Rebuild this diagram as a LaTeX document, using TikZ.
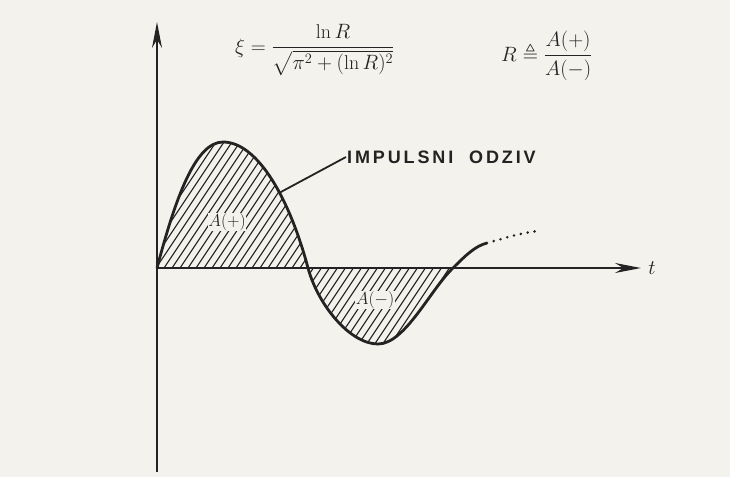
\documentclass[tikz,border=0pt]{standalone}
\usepackage{amsmath,amssymb}
\usepackage{fontspec}
\newfontfamily\labelfont[LetterSpace=16]{Liberation Sans}
\usetikzlibrary{arrows.meta}
\definecolor{paper}{RGB}{244,242,236}
\definecolor{ink}{RGB}{35,35,35}
\tikzset{
  axisline/.style={draw=ink, line width=1.8pt, -{Stealth[length=26pt,width=10pt]}},
  curveline/.style={draw=ink, line width=2.8pt, line join=round},
  hatchline/.style={draw=ink, line width=1.1pt},
  arealabel/.style={fill=paper, inner sep=0.5pt, font=\fontsize{18}{20}\selectfont, text=ink},
  formula/.style={font=\fontsize{20}{24}\selectfont, text=ink, inner sep=0pt},
}
\begin{document}
\begin{tikzpicture}[x=1pt,y=-1pt]
\fill[paper] (0,0) rectangle (730,477);
\useasboundingbox (0,0) rectangle (730,477);
% coordinates
\coordinate (O) at (157,268);
\coordinate (ytop) at (157,22);
\coordinate (ybot) at (157,472);
\coordinate (xend) at (641,268);
\coordinate (z1) at (308,268);
\coordinate (z2) at (453,268);
\coordinate (lp) at (279,193);
\coordinate (tailA) at (487,243);
\coordinate (tailB) at (538,231);
% hatching positive lobe
\begin{scope}
\clip (157,268) .. controls (175,200) and (195,142) .. (223,142)
      .. controls (258,142) and (290,200) .. (308,268) -- cycle;
\foreach \i in {60,68,...,320} {\draw[hatchline] (\i,280) -- ++(100,-150);}
\end{scope}
% hatching negative lobe
\begin{scope}
\clip (308,268) .. controls (318,305) and (350,344) .. (378,344)
      .. controls (405,344) and (430,290) .. (453,268) -- cycle;
\foreach \i in {220,228,...,480} {\draw[hatchline] (\i,360) -- ++(100,-150);}
\end{scope}
% axes
\draw[axisline] (ybot) -- (ytop);
\draw[axisline] (O) -- (xend);
% curve
\draw[curveline] (O) .. controls (175,200) and (195,142) .. (223,142)
      .. controls (258,142) and (290,200) .. (z1)
      .. controls (318,305) and (350,344) .. (378,344)
      .. controls (405,344) and (430,290) .. (z2)
      .. controls (465,256) and (475,246) .. (tailA);
\draw[ink, line width=2.8pt, line cap=round, dash pattern=on 0pt off 7pt] (tailA) .. controls (505,238) and (520,233) .. (tailB);
% labels
\node[arealabel] (Ap) at (227,222) {$A(+)$};
\node[arealabel] (Am) at (375,300) {$A(-)$};
\node[text=ink, font=\fontsize{20}{22}\selectfont, inner sep=0pt] (t) at (652,268) {$t$};
\node[text=ink, font=\labelfont\bfseries\fontsize{18}{20}\selectfont, anchor=west, inner sep=1pt] (imp) at (346,157) {IMPULSNI\ \ ODZIV};
\draw[ink, line width=1.8pt] (lp) -- (imp.west);
\node[formula, anchor=base west] (xi) at (235,53) {$\xi=\dfrac{\ln R}{\sqrt{\pi^2+(\ln R)^2}}$};
\node[formula, anchor=base west] (R) at (501,61) {$R\triangleq\dfrac{A(+)}{A(-)}$};
\end{tikzpicture}
\end{document}
